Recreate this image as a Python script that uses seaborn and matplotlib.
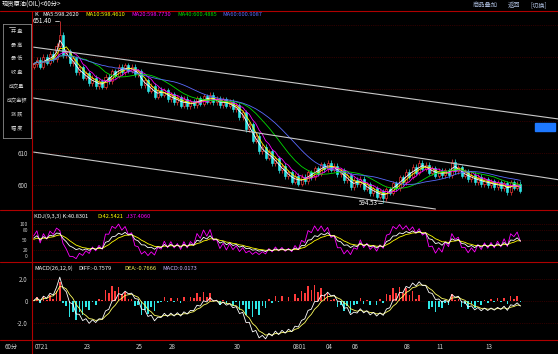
import numpy as np
import pandas as pd
import matplotlib
matplotlib.use("Agg")
import matplotlib.pyplot as plt
import seaborn as sns
from matplotlib.patches import Rectangle
from matplotlib.lines import Line2D

sns.set_style("dark", {"axes.facecolor": "black", "figure.facecolor": "black"})
plt.rcParams['font.family'] = ['Noto Sans CJK SC', 'DejaVu Sans']

# hourly closes
closes = [637.8, 639.2, 637.0, 640.1, 638.2, 641.0, 639.4, 643.5, 647.0, 640.5,
          641.8, 638.0, 639.6, 635.2, 636.8, 633.5, 635.0, 631.8, 633.6, 630.9,
          632.4, 630.8, 633.9, 632.5, 635.6, 634.2, 637.0, 635.3, 637.4, 635.8,
          636.9, 634.6, 635.5, 631.2, 632.8, 629.5, 631.0, 627.6, 629.8, 628.2,
          629.6, 626.8, 628.4, 625.9, 627.5, 624.8, 626.9, 624.6, 626.2, 625.0,
          627.1, 625.4, 627.8, 626.1, 628.3, 625.9, 627.0, 624.9, 626.8, 624.8,
          626.0, 623.7, 624.9, 621.2, 622.8, 617.5, 619.0, 613.8, 615.4, 610.6,
          612.0, 608.6, 610.5, 606.9, 608.4, 604.6, 606.1, 602.8, 604.0, 601.0,
          602.9, 600.4, 602.6, 601.2, 604.0, 602.4, 605.3, 603.6, 606.5, 604.9,
          607.0, 604.8, 606.1, 603.4, 604.6, 601.5, 603.0, 599.4, 601.6, 600.2,
          601.9, 598.8, 600.2, 597.5, 599.0, 596.4, 598.1, 595.8, 598.7, 597.6,
          600.6, 599.0, 602.4, 600.9, 604.2, 602.6, 605.7, 603.9, 607.0, 605.1,
          606.4, 603.8, 605.2, 602.9, 604.5, 603.0, 604.6, 603.1, 607.2, 604.4,
          605.6, 602.9, 604.1, 601.8, 603.2, 600.9, 602.5, 600.3, 601.8, 599.9,
          601.2, 599.4, 600.8, 599.0, 600.6, 597.8, 600.9, 599.2, 600.4, 598.26]
first_open = 637.0
hi_idx, hi_val = 8, 651.40
lo_idx, lo_val = 107, 594.53

date_pos = [0, 15, 31, 41, 61, 79, 89, 97, 113, 123, 138]
date_labels = ["0721", "23", "25", "28", "30", "0801", "04", "06", "08", "11", "13"]

# channel lines drawn on the chart (candle index, price)
chan_x = [[0, 161], [0, 161], [0, 123]]
chan_y = [[643.1, 620.6], [627.2, 601.6], [610.3, 592.5]]

ma_windows = [2, 4, 7, 14, 22]
ma_labels = ["MA5:598.2620", "MA10:598.4610", "MA20:598.7730", "MA40:600.4885", "MA60:600.9087"]
ma_colors = ["#ffffff", "#ffff00", "#ff00ff", "#00dd00", "#5a6cff"]
side_buttons = ["开 盘", "最 高", "最 低", "收 盘", "成交量", "成交金额", "涨 跌", "幅 度"]

W, H = 558, 354
RED = "#b00000"
GRID = "#5a0000"
TXT = "#d0d0d0"
UP = "#ff3a3a"
DN = "#2ee6e6"
FS = 4.1

df = pd.DataFrame({"close": closes})
df["open"] = df["close"].shift(1).fillna(first_open)
df["top"] = df[["open", "close"]].max(axis=1)
df["bot"] = df[["open", "close"]].min(axis=1)
df["high"] = df["top"] + 0.8
df["low"] = df["bot"] - 0.8
df.loc[hi_idx, "high"] = hi_val
df.loc[lo_idx, "low"] = lo_val
idx = np.arange(len(df))

# KDJ (short window because candles are fewer than the real feed)
n = 5
llv = df["low"].rolling(n, min_periods=1).min()
hhv = df["high"].rolling(n, min_periods=1).max()
rsv = (df["close"] - llv) / (hhv - llv) * 100
K, D = [], []
k, d = 50.0, 50.0
for r in rsv:
    k = 2 / 3 * k + 1 / 3 * r
    d = 2 / 3 * d + 1 / 3 * k
    K.append(k)
    D.append(d)
K = np.array(K)
D = np.array(D)
J = 3 * K - 2 * D

# MACD
ema_f = df["close"].ewm(span=4, adjust=False).mean()
ema_s = df["close"].ewm(span=9, adjust=False).mean()
diff = (ema_f - ema_s).values
dea = pd.Series(diff).ewm(span=4, adjust=False).mean().values
macd = 2 * (diff - dea)


def px(x0, y0, x1, y1):
    return [x0 / W, 1 - y1 / H, (x1 - x0) / W, (y1 - y0) / H]


def style(ax, fs=4.5):
    ax.set_facecolor("black")
    for s in ax.spines.values():
        s.set_visible(False)
    ax.tick_params(colors=TXT, labelsize=fs, length=0, pad=3)
    ax.set_xlim(-0.5, 160.5)
    ax.set_xticks([])
    ax.grid(False)


fig = plt.figure(figsize=(W / 100, H / 100), dpi=100)
fig.patch.set_facecolor("black")

ax = fig.add_axes(px(32, 11, 558, 210))
style(ax)
ax.set_ylim(592.2, 654.4)
ax.set_yticks([600, 610])
for v in [600, 610, 620, 630, 640, 650]:
    ax.axhline(v, color=GRID, ls=":", lw=0.5, zorder=0)

up = df["close"] >= df["open"]
edge = np.where(up, UP, DN)
face = np.where(up, "black", DN)
ax.vlines(idx, df["low"], df["high"], colors=edge, lw=0.5, zorder=2)
ax.bar(idx, np.maximum(df["top"] - df["bot"], 0.12), bottom=df["bot"], width=0.62,
       color=face, edgecolor=edge, linewidth=0.45, zorder=3)

for w, c in zip(ma_windows, ma_colors):
    ma = df["close"].rolling(w, min_periods=1).mean()
    sns.lineplot(x=idx, y=ma.values, ax=ax, color=c, lw=0.6, zorder=4, legend=False)

for cx, cy in zip(chan_x, chan_y):
    ax.plot(cx, cy, color="#c8c8c8", lw=0.8, zorder=5)

ax.text(-0.2, hi_val, "651.40", color="white", fontsize=4.5, va="center", ha="left", zorder=6)
ax.plot([hi_idx - 1.6, hi_idx - 0.3], [hi_val, hi_val], color="white", lw=0.5, zorder=6)
ax.text(lo_idx - 1.6, lo_val, "594.53", color="white", fontsize=4.5, va="center", ha="right", zorder=6)
ax.plot([lo_idx - 1.5, lo_idx - 0.3], [lo_val, lo_val], color="white", lw=0.5, zorder=6)

# KDJ panel
ak = fig.add_axes(px(32, 210, 558, 262))
style(ak, fs=3.5)
ak.set_ylim(-19, 144)
ak.set_yticks([0, 20, 50, 80, 100])
for v in [20, 50, 80, 100]:
    ak.axhline(v, color=GRID, ls=":", lw=0.5, zorder=0)
sns.lineplot(x=idx, y=J, ax=ak, color="#ff00ff", lw=0.6, legend=False)
sns.lineplot(x=idx, y=D, ax=ak, color="#ffff00", lw=0.6, legend=False)
sns.lineplot(x=idx, y=K, ax=ak, color="#ffffff", lw=0.6, legend=False)

# MACD panel
am = fig.add_axes(px(32, 262, 558, 340))
style(am)
am.set_ylim(-3.6, 3.55)
am.set_yticks([-2, 0, 2])
am.set_yticklabels(["-2.0", "0", "2.0"])
for v in [-2, 0, 2]:
    am.axhline(v, color=GRID, ls=":", lw=0.5, zorder=0)
am.bar(idx, macd, width=0.5, color=np.where(macd >= 0, UP, DN), edgecolor="none",
       linewidth=0, zorder=2)
sns.lineplot(x=idx, y=dea, ax=am, color="#ffff60", lw=0.6, zorder=3, legend=False)
sns.lineplot(x=idx, y=diff, ax=am, color="#ffffff", lw=0.6, zorder=3, legend=False)

tr = am.get_xaxis_transform()
for p, lab in zip(date_pos, date_labels):
    am.text(p + 0.3, -0.09, lab, transform=tr, color=TXT, fontsize=4.5, ha="left", va="center")
fig.text(5 / W, 1 - 347 / H, "60分", color=TXT, fontsize=4.5, va="center")

# frame lines
for y in [11, 210, 262, 340]:
    fig.add_artist(Line2D([0, 1], [1 - y / H] * 2, color=RED, lw=0.8))
fig.add_artist(Line2D([32 / W] * 2, [1 - 11 / H, 0], color=RED, lw=0.8))

# header texts
fig.text(2 / W, 1 - 5 / H, "现货原油(OIL)<60分>", color="white", fontsize=4.5, va="center")
for x, t in [(473, "商品叠加"), (508, "返回"), (530, "[切换]")]:
    fig.text(x / W, 1 - 5 / H, t, color="#a8b8d8", fontsize=4.5, va="center")

fig.text(34 / W, 1 - 15 / H, "K", color="white", fontsize=FS, va="center")
for x, t, c in zip([42, 85, 131, 177, 222], ma_labels, ma_colors):
    fig.text(x / W, 1 - 15 / H, t, color=c, fontsize=FS, va="center")

for x, t, c in [(34, "KDJ(9,3,3) K:40.8301", "white"), (97, "D:42.5421", "#ffff00"),
                (126, "J:37.4060", "#ff00ff")]:
    fig.text(x / W, 1 - 216 / H, t, color=c, fontsize=FS, va="center")
for x, t, c in [(34, "MACD(26,12,9)", "white"), (78, "DIFF:-0.7579", "white"),
                (124, "DEA:-0.7666", "#ffff60"), (162, "MACD:0.0173", "#c8b4ff")]:
    fig.text(x / W, 1 - 268 / H, t, color=c, fontsize=FS, va="center")

# current price marker
fig.patches.append(Rectangle((535 / W, 1 - 131 / H), 20 / W, 8 / H,
                             transform=fig.transFigure, color="#1e78ff", zorder=10))

# side button box
sb = fig.add_axes(px(3, 24, 31, 138), zorder=10)
sb.set_facecolor("black")
sb.set_xticks([])
sb.set_yticks([])
for s in sb.spines.values():
    s.set_color("#8a8a8a")
    s.set_linewidth(0.6)
sb.set_xlim(3, 31)
sb.set_ylim(138, 24)
sb.plot([9, 15], [27, 27], color="#bbbbbb", lw=0.6)
for yy, t in zip([31.7, 45, 59, 72.7, 86.7, 100.7, 114, 128.7], side_buttons):
    sb.text(17, yy, t, color=TXT, fontsize=3.7, ha="center", va="center")

fig.savefig("out.png", dpi=100, facecolor="black")
